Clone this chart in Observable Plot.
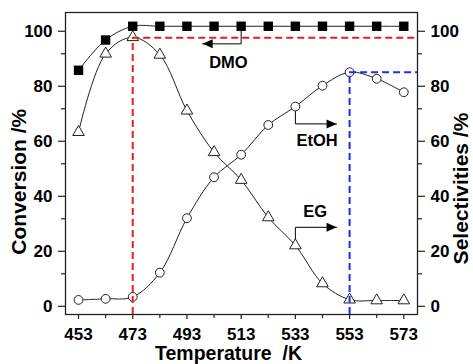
<!DOCTYPE html>
<html>
<head>
<meta charset="utf-8">
<script src="https://cdn.jsdelivr.net/npm/d3@7"></script>
<script src="https://cdn.jsdelivr.net/npm/@observablehq/plot@0.6"></script>
<style>
  body { margin: 0; background: #fff; }
  #chart { width: 473px; height: 364px; }
</style>
</head>
<body>
<div id="chart"></div>
<script>
// ---- data ----
const temps = [453, 463, 473, 483, 493, 503, 513, 523, 533, 543, 553, 563, 573];
const dmoConversion = [84, 95, 100, 100, 100, 100, 100, 100, 100, 100, 100, 100, 100];
const egSelectivity = [61.5, 90, 96, 89.6, 69.3, 54.2, 44.1, 30.5, 20.3, 6.5, 0.6, 0.3, 0.3];
const etohSelectivity = [0.5, 0.9, 1.6, 10.4, 30.2, 45.1, 53.3, 64.1, 70.8, 78.4, 83.3, 80.9, 76];

const xTicks = [453, 473, 493, 513, 533, 553, 573];
const xMinorTicks = [463, 483, 503, 523, 543, 563];
const yTicks = [0, 20, 40, 60, 80, 100];
const yMinorTicks = [10, 30, 50, 70, 90];

// reference (dashed) lines
const redX = 473, redY = 95.8;
const blueX = 553, blueY = 83.3;

// annotation labels
const labelNames = ["DMO", "EtOH", "EG"];
const labelX = [508.3, 541, 540.3];
const labelY = [86.9, 58.4, 32.7];

// annotation arrows (elbow polylines)
const arrowDMO_x = [513, 513, 498.8], arrowDMO_y = [100, 93.6, 93.6];
const arrowEtOH_x = [533, 533, 548.2], arrowEtOH_y = [70.8, 64.5, 64.5];
const arrowEG_x = [533, 533, 548.2], arrowEG_y = [20.3, 26.9, 26.9];

// ---- build tables ----
const rows = temps.map((t, i) => ({t, dmo: dmoConversion[i], eg: egSelectivity[i], etoh: etohSelectivity[i]}));
const labels = labelNames.map((n, i) => ({n, x: labelX[i], y: labelY[i]}));
const toPts = (xs, ys, id) => xs.map((x, i) => ({x, y: ys[i], id}));
const arrowPts = [
  ...toPts(arrowDMO_x, arrowDMO_y, "DMO"),
  ...toPts(arrowEtOH_x, arrowEtOH_y, "EtOH"),
  ...toPts(arrowEG_x, arrowEG_y, "EG")
];
const headsRight = [
  {x: arrowEtOH_x[2], y: arrowEtOH_y[2]},
  {x: arrowEG_x[2], y: arrowEG_y[2]}
];
const headsLeft = [{x: arrowDMO_x[2], y: arrowDMO_y[2]}];

const headRightSym = {draw(ctx) { ctx.moveTo(0, 0); ctx.lineTo(-10, -4.5); ctx.lineTo(-10, 4.5); ctx.closePath(); }};
const headLeftSym = {draw(ctx) { ctx.moveTo(0, 0); ctx.lineTo(10, -4.5); ctx.lineTo(10, 4.5); ctx.closePath(); }};

const font = "'Liberation Sans', Arial, Helvetica, sans-serif";
const titleOpts = {textAnchor: "middle", lineAnchor: "middle", fontWeight: "bold", fill: "#000"};

const chart = Plot.plot({
  width: 473,
  height: 364,
  marginLeft: 65,
  marginRight: 56,
  marginTop: 12,
  marginBottom: 50,
  style: {fontFamily: font, background: "#fff", color: "#000", overflow: "visible"},
  x: {domain: [448.2, 578.05], label: null},
  y: {domain: [-4.8, 105], label: null},
  marks: [
    // axes
    Plot.axisX({ticks: xTicks, tickSize: 5, tickPadding: 8, fontSize: 17, fontWeight: "bold", stroke: "#222", strokeWidth: 1.2, label: null}),
    Plot.axisX({ticks: xMinorTicks, tickSize: 4, tickFormat: () => "", stroke: "#222", strokeWidth: 1.2, label: null}),
    Plot.axisY({anchor: "left", ticks: yTicks, tickSize: 7, tickPadding: 6, dy: 5, fontSize: 17, fontWeight: "bold", stroke: "#222", strokeWidth: 1.2, label: null}),
    Plot.axisY({anchor: "left", ticks: yMinorTicks, tickSize: 4, tickFormat: () => "", stroke: "#222", strokeWidth: 1.2, label: null}),
    Plot.axisY({anchor: "right", ticks: yTicks, tickSize: 7, tickPadding: 6, dy: 5, fontSize: 17, fontWeight: "bold", stroke: "#222", strokeWidth: 1.2, label: null}),
    Plot.axisY({anchor: "right", ticks: yMinorTicks, tickSize: 4, tickFormat: () => "", stroke: "#222", strokeWidth: 1.2, label: null}),
    Plot.frame({stroke: "#222", strokeWidth: 1.3}),

    // axis titles
    Plot.text(["Temperature\u00a0\u00a0/K"], {...titleOpts, frameAnchor: "bottom", text: d => d, dx: -13, dy: 39.5, fontSize: 19.5}),
    Plot.text(["Conversion /%"], {...titleOpts, frameAnchor: "left", text: d => d, rotate: -90, dx: -46.7, dy: 18.2, fontSize: 21}),
    Plot.text(["Selectivities /%"], {...titleOpts, frameAnchor: "right", text: d => d, rotate: -90, dx: 44, dy: 25, fontSize: 21}),

    // curves
    Plot.line(rows, {x: "t", y: "dmo", curve: "catmull-rom", stroke: "#222", strokeWidth: 1}),
    Plot.line(rows, {x: "t", y: "eg", curve: "catmull-rom", stroke: "#222", strokeWidth: 1}),
    Plot.line(rows, {x: "t", y: "etoh", curve: "catmull-rom", stroke: "#222", strokeWidth: 1}),

    // annotation arrows
    Plot.line(arrowPts, {x: "x", y: "y", z: "id", stroke: "#000", strokeWidth: 1}),
    Plot.dot(headsRight, {x: "x", y: "y", symbol: headRightSym, fill: "#000", stroke: "none"}),
    Plot.dot(headsLeft, {x: "x", y: "y", symbol: headLeftSym, fill: "#000", stroke: "none"}),

    // markers
    Plot.dot(rows, {x: "t", y: "dmo", symbol: "square", r: 5.3, fill: "#000", stroke: "none"}),
    Plot.dot(rows, {x: "t", y: "eg", symbol: "triangle", r: 4.3, fill: "#fff", stroke: "#222", strokeWidth: 1}),
    Plot.dot(rows, {x: "t", y: "etoh", symbol: "circle", r: 4.4, fill: "#fff", stroke: "#222", strokeWidth: 1}),

    // dashed guide lines
    Plot.ruleX([redX], {x: d => d, y1: -4.8, y2: redY, stroke: "#e3201c", strokeWidth: 2, strokeDasharray: "7,4"}),
    Plot.ruleY([redY], {y: d => d, x1: redX, x2: 578.05, stroke: "#e3201c", strokeWidth: 2, strokeDasharray: "7,4"}),
    Plot.ruleX([blueX], {x: d => d, y1: -4.8, y2: blueY, stroke: "#1c2ee8", strokeWidth: 2, strokeDasharray: "7,4"}),
    Plot.ruleY([blueY], {y: d => d, x1: blueX, x2: 578.05, stroke: "#1c2ee8", strokeWidth: 2, strokeDasharray: "7,4"}),

    // labels
    Plot.text(labels, {x: "x", y: "y", text: "n", fontSize: 16.5, fontWeight: "bold", fill: "#000"})
  ]
});
document.getElementById("chart").appendChild(chart);
</script>
</body>
</html>
